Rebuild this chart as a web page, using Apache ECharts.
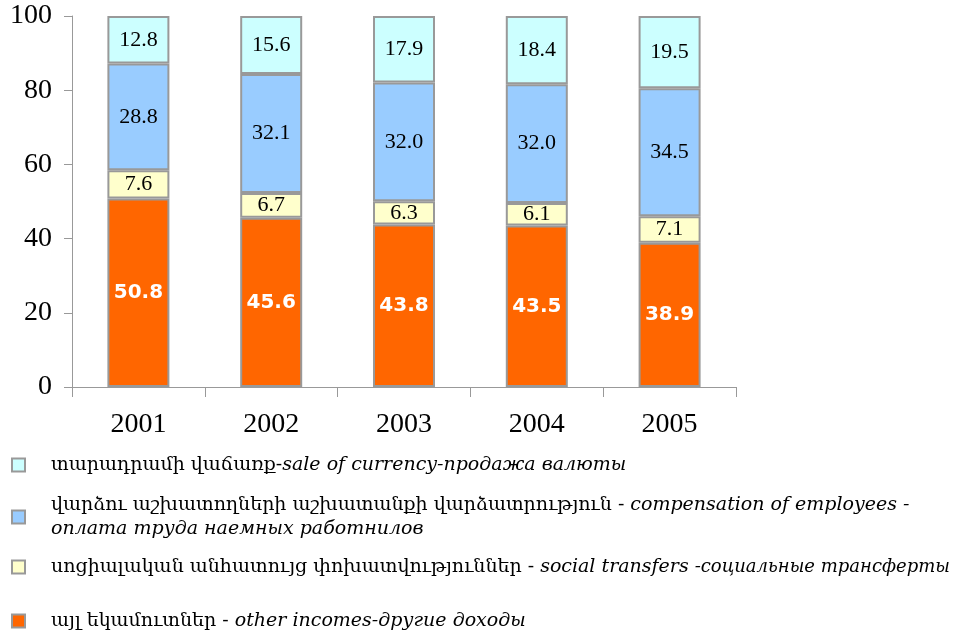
<!DOCTYPE html>
<html>
<head>
<meta charset="utf-8">
<script src="https://cdn.jsdelivr.net/npm/echarts@6/dist/echarts.min.js"></script>
<style>
  html, body { margin: 0; padding: 0; background: #fff; }
  #main { width: 977px; height: 634px; }
</style>
</head>
<body>
<div id="main"></div>
<script>
// years on the x axis
const years = ['2001', '2002', '2003', '2004', '2005']
// shares, % (bottom to top)
const otherIncomes = [50.8, 45.6, 43.8, 43.5, 38.9]
const socialTransfers = [7.6, 6.7, 6.3, 6.1, 7.1]
const compensation = [28.8, 32.1, 32.0, 32.0, 34.5]
const saleOfCurrency = [12.8, 15.6, 17.9, 18.4, 19.5]

const legendText = {
  sale: '{arm|տարադրամի վաճառք-}{it|sale of currency-продажа валюты}',
  comp: '{arm|վարձու աշխատողների աշխատանքի վարձատրություն - }{it|compensation of employees -}\n{it|оплата труда наемных работнилов}',
  social: '{arm|սոցիալական անհատույց փոխատվություններ - }{it|social transfers }{ru|-социальные трансферты}',
  other: '{arm|այլ եկամուտներ - }{it|other incomes-другие доходы}'
}

const serif = "'Liberation Serif', 'Times New Roman', serif"
const armFont = "'DejaVu Serif', 'Liberation Serif', serif"
const itFont = "'DejaVu Serif', serif"

// one legend block per series, so each line can sit where it does in the source
const makeLegend = (name, top, lineHeight) => ({
  data: [name],
  left: 11,
  top: top,
  orient: 'vertical',
  icon: 'rect',
  itemWidth: 13,
  itemHeight: 13,
  padding: 0,
  selectedMode: false,
  formatter: (n) => legendText[n],
  textStyle: {
    padding: [0, 0, 0, 21],
    lineHeight: lineHeight,
    rich: {
      arm: { fontFamily: armFont, fontSize: 19, color: '#000', lineHeight: lineHeight },
      it: { fontFamily: itFont, fontStyle: 'italic', fontSize: 19, color: '#000', lineHeight: lineHeight },
      ru: { fontFamily: itFont, fontStyle: 'italic', fontSize: 18, color: '#000', lineHeight: lineHeight }
    }
  }
})

const blackLabel = {
  show: true,
  color: '#000',
  fontFamily: serif,
  fontSize: 22,
  formatter: (p) => p.value.toFixed(1)
}

const barBase = {
  type: 'bar',
  stack: 'total',
  barWidth: 62,
  emphasis: { disabled: true }
}

const chart = echarts.init(document.getElementById('main'))
chart.setOption({
  animation: false,
  grid: { left: 72, top: 16, right: 241, bottom: 247 },
  legend: [
    makeLegend('sale', 455, 20),
    makeLegend('comp', 493, 24),
    makeLegend('social', 557, 20),
    makeLegend('other', 611, 20)
  ],
  xAxis: {
    type: 'category',
    data: years,
    axisLine: { lineStyle: { color: '#999', width: 1 } },
    axisTick: { show: true, length: 10, lineStyle: { color: '#999' } },
    axisLabel: { color: '#000', fontFamily: serif, fontSize: 28, margin: 24 }
  },
  yAxis: {
    type: 'value',
    min: 0,
    max: 100,
    interval: 20,
    splitLine: { show: false },
    axisLine: { show: true, lineStyle: { color: '#999', width: 1 } },
    axisTick: { show: true, length: 8, lineStyle: { color: '#999' } },
    axisLabel: { color: '#000', fontFamily: serif, fontSize: 28, margin: 20 }
  },
  series: [
    Object.assign({}, barBase, {
      name: 'other',
      data: otherIncomes,
      itemStyle: { color: '#FF6600', borderColor: '#999', borderWidth: 2 },
      label: {
        show: true,
        color: '#fff',
        fontFamily: "'DejaVu Sans', sans-serif",
        fontWeight: 'bold',
        fontSize: 20,
        formatter: (p) => p.value.toFixed(1)
      }
    }),
    Object.assign({}, barBase, {
      name: 'social',
      data: socialTransfers,
      itemStyle: { color: '#FFFFCC', borderColor: '#999', borderWidth: 2 },
      label: blackLabel
    }),
    Object.assign({}, barBase, {
      name: 'comp',
      data: compensation,
      itemStyle: { color: '#99CCFF', borderColor: '#999', borderWidth: 2 },
      label: blackLabel
    }),
    Object.assign({}, barBase, {
      name: 'sale',
      data: saleOfCurrency,
      itemStyle: { color: '#CCFFFF', borderColor: '#999', borderWidth: 2 },
      label: blackLabel
    })
  ]
})
</script>
</body>
</html>
